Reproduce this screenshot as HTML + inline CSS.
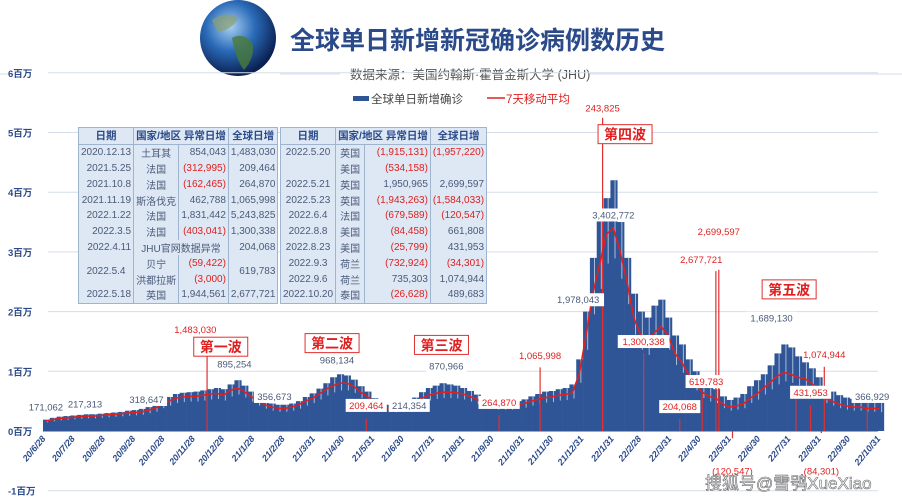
<!DOCTYPE html>
<html><head><meta charset="utf-8"><style>
body{margin:0;background:#fff;width:902px;height:500px;overflow:hidden;font-family:"Liberation Sans","Noto Sans CJK SC",sans-serif}
#wrap{position:relative;width:902px;height:500px}
table{position:absolute;border-collapse:collapse;font-size:10px;color:#4a5a7a;background:#dde8f4}
td,th{border-right:1px solid #9fb4cf;padding:0 2px;height:15.8px;text-align:right;white-space:nowrap}
th{color:#2b4a8a;font-weight:bold;text-align:center;font-size:10.5px;border-bottom:1px solid #9fb4cf}
td.c{text-align:center}
.r{color:#e02020}
</style></head><body><div id="wrap">
<svg id="svg" width="902" height="500" style="position:absolute;left:0;top:0"></svg>
<table style="left:78px;top:127px;width:196px;border:1px solid #9fb4cf">
<tr><th>日期</th><th colspan="2">国家/地区 异常日增</th><th>全球日增</th></tr>
<tr><td>2020.12.13</td><td class="c">土耳其</td><td>854,043</td><td>1,483,030</td></tr>
<tr><td>2021.5.25</td><td class="c">法国</td><td class="r">(312,995)</td><td>209,464</td></tr>
<tr><td>2021.10.8</td><td class="c">法国</td><td class="r">(162,465)</td><td>264,870</td></tr>
<tr><td>2021.11.19</td><td class="c">斯洛伐克</td><td>462,788</td><td>1,065,998</td></tr>
<tr><td>2022.1.22</td><td class="c">法国</td><td>1,831,442</td><td>5,243,825</td></tr>
<tr><td>2022.3.5</td><td class="c">法国</td><td class="r">(403,041)</td><td>1,300,338</td></tr>
<tr><td>2022.4.11</td><td class="c" colspan="2">JHU官网数据异常</td><td>204,068</td></tr>
<tr><td rowspan="2" class="c">2022.5.4</td><td class="c">贝宁</td><td class="r">(59,422)</td><td rowspan="2">619,783</td></tr>
<tr><td class="c">洪都拉斯</td><td class="r">(3,000)</td></tr>
<tr><td>2022.5.18</td><td class="c">英国</td><td>1,944,561</td><td>2,677,721</td></tr>
</table>
<table style="left:280px;top:127px;width:200px;border:1px solid #9fb4cf">
<tr><th>日期</th><th colspan="2">国家/地区 异常日增</th><th>全球日增</th></tr>
<tr><td class="c">2022.5.20</td><td class="c">英国</td><td class="r">(1,915,131)</td><td class="r">(1,957,220)</td></tr>
<tr><td></td><td class="c">美国</td><td class="r">(534,158)</td><td></td></tr>
<tr><td class="c">2022.5.21</td><td class="c">英国</td><td>1,950,965</td><td>2,699,597</td></tr>
<tr><td class="c">2022.5.23</td><td class="c">英国</td><td class="r">(1,943,263)</td><td class="r">(1,584,033)</td></tr>
<tr><td class="c">2022.6.4</td><td class="c">法国</td><td class="r">(679,589)</td><td class="r">(120,547)</td></tr>
<tr><td class="c">2022.8.8</td><td class="c">美国</td><td class="r">(84,458)</td><td>661,808</td></tr>
<tr><td class="c">2022.8.23</td><td class="c">美国</td><td class="r">(25,799)</td><td>431,953</td></tr>
<tr><td class="c">2022.9.3</td><td class="c">荷兰</td><td class="r">(732,924)</td><td class="r">(34,301)</td></tr>
<tr><td class="c">2022.9.6</td><td class="c">荷兰</td><td>735,303</td><td>1,074,944</td></tr>
<tr><td class="c">2022.10.20</td><td class="c">泰国</td><td class="r">(26,628)</td><td>489,683</td></tr>
</table>
</div>
<script>
const startDate='2020-06-28';
const weeklyMA=[0.17,0.19,0.21,0.22,0.23,0.24,0.25,0.25,0.26,0.27,0.28,0.29,0.30,0.31,0.32,0.35,0.38,0.45,0.50,0.55,0.57,0.58,0.58,0.60,0.62,0.63,0.60,0.68,0.72,0.66,0.58,0.50,0.44,0.40,0.38,0.38,0.40,0.44,0.50,0.55,0.62,0.70,0.76,0.80,0.80,0.75,0.65,0.58,0.48,0.42,0.38,0.37,0.38,0.42,0.48,0.55,0.60,0.63,0.65,0.65,0.64,0.62,0.58,0.53,0.48,0.44,0.42,0.42,0.42,0.44,0.46,0.50,0.53,0.56,0.57,0.60,0.61,0.64,0.95,1.6,2.3,2.8,3.3,3.4,3.0,2.5,1.9,1.6,1.5,1.65,1.75,1.6,1.3,1.15,0.95,0.8,0.65,0.58,0.55,0.45,0.40,0.42,0.45,0.55,0.62,0.72,0.82,0.92,0.98,0.95,0.90,0.88,0.80,0.70,0.55,0.50,0.45,0.42,0.40,0.40,0.38,0.38,0.37];
const weeklyPeak=[0.19,0.22,0.24,0.25,0.26,0.27,0.28,0.28,0.29,0.30,0.31,0.32,0.34,0.35,0.37,0.40,0.45,0.52,0.57,0.62,0.64,0.65,0.66,0.68,0.70,0.72,0.70,0.78,0.85,0.76,0.66,0.57,0.50,0.46,0.44,0.44,0.46,0.50,0.57,0.63,0.71,0.80,0.90,0.95,0.93,0.86,0.75,0.66,0.55,0.48,0.44,0.43,0.44,0.48,0.56,0.65,0.72,0.76,0.80,0.78,0.76,0.72,0.67,0.61,0.55,0.50,0.48,0.48,0.48,0.50,0.53,0.58,0.62,0.66,0.67,0.70,0.72,0.78,1.20,2.0,2.9,3.6,3.9,4.2,3.5,2.9,2.3,2.0,1.9,2.1,2.2,1.9,1.6,1.45,1.2,1.0,0.85,0.75,0.70,0.58,0.52,0.56,0.62,0.75,0.85,0.95,1.10,1.30,1.45,1.40,1.25,1.15,1.05,0.90,0.72,0.66,0.60,0.56,0.54,0.55,0.52,0.52,0.48];
const tickLabels=['20/6/28','20/7/28','20/8/28','20/9/28','20/10/28','20/11/28','20/12/28','21/1/28','21/2/28','21/3/31','21/4/30','21/5/31','21/6/30','21/7/31','21/8/31','21/9/30','21/10/31','21/11/30','21/12/31','22/1/31','22/2/28','22/3/31','22/4/30','22/5/31','22/6/30','22/7/31','22/8/31','22/9/30','22/10/31'];
const yTicks=[6,5,4,3,2,1,0,-1];
const anomalyDates=['2020-12-13','2021-05-25','2021-10-08','2021-11-19','2022-01-22','2022-03-05','2022-04-11','2022-05-04','2022-05-18','2022-05-21','2022-06-04','2022-08-08','2022-08-23','2022-09-03','2022-09-06','2022-10-20'];
const anomalyValues=[1.483,0.209,0.265,1.066,5.244,1.300,0.204,0.620,2.678,2.700,-0.121,0.662,0.432,-0.034,1.075,0.490];
const labelTexts=['171,062','217,313','318,647','895,254','356,673','968,134','214,354','870,966','1,978,043','3,402,772','1,689,130','366,929','1,483,030','209,464','264,870','1,065,998','243,825','1,300,338','2,677,721','2,699,597','619,783','204,068','1,074,944','431,953','(120,547)','(84,301)'];
const labelDates=['2020-07-01','2020-08-10','2020-10-12','2021-01-10','2021-02-20','2021-04-25','2021-07-08','2021-08-15','2021-12-28','2022-02-02','2022-07-14','2022-10-25','2020-12-01','2021-05-25','2021-10-08','2021-11-19','2022-01-22','2022-03-05','2022-05-03','2022-05-21','2022-05-08','2022-04-11','2022-09-06','2022-08-23','2022-06-04','2022-09-03'];
const labelValues=[0.34,0.39,0.47,1.06,0.52,1.13,0.37,1.03,2.14,3.56,1.83,0.52,1.64,0.37,0.42,1.21,5.35,1.44,2.81,3.28,0.77,0.35,1.22,0.59,-0.73,-0.73];
const labelRed=[0,0,0,0,0,0,0,0,0,0,0,0,1,1,1,1,1,1,1,1,1,1,1,1,1,1];
const waves=['第一波','第二波','第三波','第四波','第五波'];
const waveDates=['2020-12-27','2021-04-20','2021-08-10','2022-02-14','2022-08-01'];
const waveValues=[1.32,1.38,1.35,4.88,2.28];

const svg=document.getElementById('svg');const NS='http://www.w3.org/2000/svg';
const X0=43,X1=878,Y0=431,PM=59.7;
const d0=new Date(startDate+'T00:00:00Z');
const days=s=>(new Date(s+'T00:00:00Z')-d0)/864e5;
const x=d=>X0+d*(X1-X0)/855;
const y=v=>Y0-v*PM;
function el(t,a,p){const e=document.createElementNS(NS,t);for(const k in a)e.setAttribute(k,a[k]);(p||svg).appendChild(e);return e;}
function tx(s,a){const e=el('text',a);e.textContent=s;return e;}
const defs=el('defs',{});
const g=el('radialGradient',{id:'gl',cx:'40%',cy:'35%',r:'65%'},defs);
el('stop',{offset:'0','stop-color':'#a8d0f0'},g);el('stop',{offset:'0.5','stop-color':'#2a6ab8'},g);el('stop',{offset:'1','stop-color':'#0a2050'},g);
let e=el('circle',{cx:238,cy:38,r:38,fill:'url(#gl)'});
el('path',{d:'M232 38 q10 -6 20 4 q4 14 -8 28 q-8 -10 -12 -32z',fill:'#4a7a3a',opacity:0.8});
el('path',{d:'M212 20 q14 -10 26 -2 q-6 12 -20 14z',fill:'#8aa070',opacity:0.7});
e=tx('全球单日新增新冠确诊病例数历史',{x:290,y:49,'font-size':25,'font-weight':'bold',fill:'#2b4a8a'});
el('line',{x1:0,y1:74,x2:14,y2:74,stroke:'#d5dde8'});el('line',{x1:280,y1:74,x2:340,y2:74,stroke:'#d5dde8'});el('line',{x1:590,y1:74,x2:902,y2:74,stroke:'#d5dde8'});
e=tx('数据来源：美国约翰斯·霍普金斯大学 (JHU)',{x:350,y:79,'font-size':12.5,fill:'#555'});
el('rect',{x:353,y:96,width:16,height:5,fill:'#2f5597'});
e=tx('全球单日新增确诊',{x:371,y:103,'font-size':11.5,fill:'#444'});
el('line',{x1:487,y1:98,x2:505,y2:98,stroke:'#e02020','stroke-width':1.5});
e=tx('7天移动平均',{x:506,y:103,'font-size':11.5,fill:'#e02020'});
yTicks.forEach(v=>{el('line',{x1:X0+(v==0?0:5),x2:X1,y1:y(v),y2:y(v),stroke:v==0?'#2f5597':'#d5dde8','stroke-width':1});
 e=tx(v+'百万',{x:8,y:y(v)+4,'font-size':9.5,'font-weight':'bold',fill:'#2b4a8a'});});
const bw=7*(X1-X0)/855;
weeklyPeak.forEach((v,i)=>{const b=el('rect',{x:x(i*7),y:y(v),width:bw+0.3,height:v*PM,fill:'#2f5597'});
 });
weeklyMA.forEach((v,i)=>{el('rect',{x:x(i*7)+bw*0.6,y:y(weeklyPeak[i]),width:1,height:(weeklyPeak[i]-v*0.85)*PM,fill:'#c8d6ea',opacity:0.8});});
anomalyDates.forEach((d,i)=>{const v=anomalyValues[i];const l=el('line',{x1:x(days(d)),x2:x(days(d)),y1:Y0,y2:y(v),stroke:'#e03030','stroke-width':1.2});
 });
let p='';weeklyMA.forEach((v,i)=>{p+=(i?'L':'M')+x(i*7+3).toFixed(1)+' '+y(v).toFixed(1);});
e=el('path',{d:p,fill:'none',stroke:'#e02020','stroke-width':1.6});
labelTexts.forEach((t,i)=>{const cx=x(days(labelDates[i])),cy=y(labelValues[i]);const w=t.length*5.3+4;
 if(i<12||(i>=13&&i<24&&i!=16&&i!=12&&i!=15&&i!=18&&i!=19&&i!=22))el('rect',{x:cx-w/2,y:cy-10,width:w,height:13,fill:'#fff'});
 const te=tx(t,{x:cx,y:cy,'font-size':9.5,'text-anchor':'middle',fill:labelRed[i]?'#e02020':'#4a5a7a'});
 });
waves.forEach((w,i)=>{const cx=x(days(waveDates[i])),cy=y(waveValues[i]);
 el('rect',{x:cx-27,y:cy-15,width:54,height:19,fill:'#fff',stroke:'#e03030'});
 const te=tx(w,{x:cx,y:cy,'font-size':14,'font-weight':'bold','text-anchor':'middle',fill:'#e02020'});
 });
const tickDates=tickLabels.map(s=>{const [a,b,c]=s.split('/');return '20'+a+'-'+b.padStart(2,'0')+'-'+c.padStart(2,'0');});
tickDates.forEach((d,i)=>{const tx0=x(days(d));
 const te=tx(tickLabels[i],{x:tx0+3,y:Y0+8,'font-size':9,'font-weight':'bold','font-style':'italic','text-anchor':'end',fill:'#2b4a8a',transform:`rotate(-50 ${tx0+3} ${Y0+8})`});
 });
e=tx('搜狐号@雪鸮XueXiao',{x:705,y:489,'font-size':17,fill:'#fff',stroke:'#666','stroke-width':0.6});
</script></body></html>
